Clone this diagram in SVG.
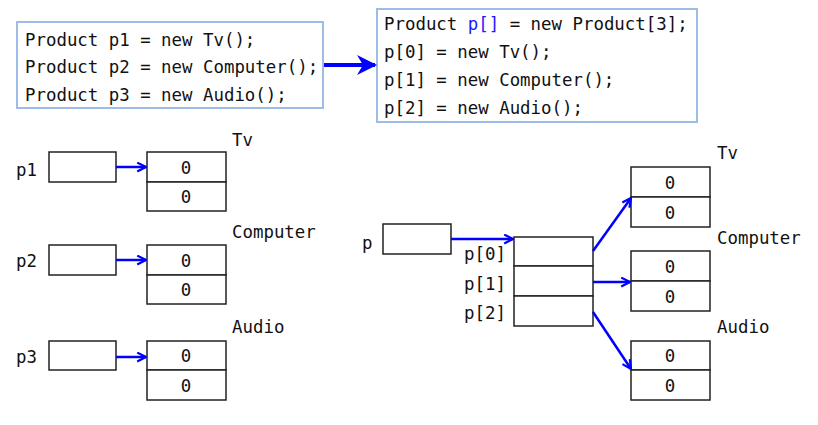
<svg xmlns="http://www.w3.org/2000/svg" width="818" height="425" viewBox="0 0 818 425">
<defs>
<style>
text{font-family:"DejaVu Sans Mono","Liberation Mono",monospace;font-size:17.4px;fill:#111}
.code{fill:#fff;stroke:#9dbde6;stroke-width:2}
.box{fill:#fff;stroke:#222;stroke-width:1.5}
.z{text-anchor:middle}
.arr{stroke:#0000ff;stroke-width:2.5;fill:none;marker-end:url(#chev)}
</style>
<marker id="chev" viewBox="0 0 10 10" refX="9" refY="5" markerWidth="4.4" markerHeight="4.4" orient="auto" markerUnits="strokeWidth">
<path d="M1,1 L9,5 L1,9" fill="none" stroke="#0000ff" stroke-width="2"/>
</marker>
<marker id="big" viewBox="0 0 10 10" refX="9" refY="5" markerWidth="5" markerHeight="5" orient="auto" markerUnits="strokeWidth">
<path d="M0,0 L10,5 L0,10 L3,5 Z" fill="#0000ff"/>
</marker>
</defs>

<g id="code1">
<rect class="code" x="17" y="22" width="306" height="86"/>
<text x="25" y="46">Product p1 = new Tv();</text>
<text x="25" y="73">Product p2 = new Computer();</text>
<text x="25" y="101">Product p3 = new Audio();</text>
</g>

<g id="code2">
<rect class="code" x="377" y="9" width="320" height="113"/>
<text x="384" y="30">Product <tspan fill="#1a1aff">p[]</tspan> = new Product[3];</text>
<text x="384" y="58">p[0] = new Tv();</text>
<text x="384" y="86">p[1] = new Computer();</text>
<text x="384" y="114">p[2] = new Audio();</text>
</g>

<g id="p1">
<text x="16" y="176">p1</text>
<rect class="box" x="49" y="152" width="67" height="30"/>
</g>
<g id="tv1">
<text x="232" y="146">Tv</text>
<rect class="box" x="147" y="152" width="79" height="30"/>
<rect class="box" x="147" y="182" width="79" height="29"/>
<text class="z" x="186" y="174">0</text>
<text class="z" x="186" y="203">0</text>
</g>

<g id="p2">
<text x="16" y="267">p2</text>
<rect class="box" x="49" y="245" width="67" height="30"/>
</g>
<g id="computer1">
<text x="232" y="238">Computer</text>
<rect class="box" x="147" y="245" width="79" height="30"/>
<rect class="box" x="147" y="275" width="79" height="29"/>
<text class="z" x="186" y="267">0</text>
<text class="z" x="186" y="296">0</text>
</g>

<g id="p3">
<text x="16" y="363">p3</text>
<rect class="box" x="49" y="341" width="67" height="29"/>
</g>
<g id="audio1">
<text x="232" y="333">Audio</text>
<rect class="box" x="147" y="341" width="79" height="29"/>
<rect class="box" x="147" y="370" width="79" height="30"/>
<text class="z" x="186" y="362">0</text>
<text class="z" x="186" y="392">0</text>
</g>

<g id="p">
<text x="362" y="249">p</text>
<rect class="box" x="383" y="224" width="68" height="30"/>
</g>
<g id="array">
<rect class="box" x="514" y="237" width="79" height="29"/>
<rect class="box" x="514" y="266" width="79" height="30"/>
<rect class="box" x="514" y="296" width="79" height="30"/>
<text x="464" y="260">p[0]</text>
<text x="464" y="290">p[1]</text>
<text x="464" y="319">p[2]</text>
</g>
<g id="tv2">
<text x="717" y="159">Tv</text>
<rect class="box" x="631" y="167" width="79" height="30"/>
<rect class="box" x="631" y="197" width="79" height="30"/>
<text class="z" x="670" y="189">0</text>
<text class="z" x="670" y="219">0</text>
</g>
<g id="computer2">
<text x="717" y="244">Computer</text>
<rect class="box" x="631" y="251" width="79" height="30"/>
<rect class="box" x="631" y="281" width="79" height="30"/>
<text class="z" x="670" y="273">0</text>
<text class="z" x="670" y="303">0</text>
</g>
<g id="audio2">
<text x="717" y="333">Audio</text>
<rect class="box" x="631" y="341" width="79" height="29"/>
<rect class="box" x="631" y="370" width="79" height="30"/>
<text class="z" x="670" y="362">0</text>
<text class="z" x="670" y="392">0</text>
</g>

<g id="connectors">
<line x1="324" y1="65" x2="375" y2="65" stroke="#0000ff" stroke-width="4" marker-end="url(#big)"/>
<line class="arr" x1="116" y1="167" x2="146" y2="167"/>
<line class="arr" x1="116" y1="260" x2="146" y2="260"/>
<line class="arr" x1="116" y1="357" x2="146" y2="357"/>
<line class="arr" x1="451" y1="239" x2="513" y2="239"/>
<line class="arr" x1="593" y1="251" x2="631" y2="198"/>
<line class="arr" x1="593" y1="282" x2="630" y2="282"/>
<line class="arr" x1="593" y1="312" x2="631" y2="369"/>
</g>
</svg>
